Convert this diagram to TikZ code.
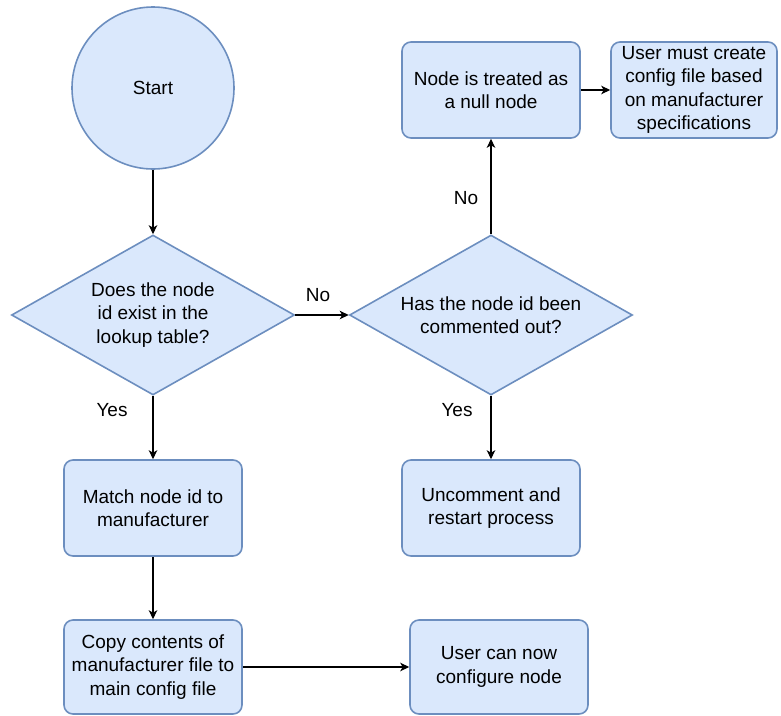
\documentclass[tikz,border=0pt]{standalone}
\usepackage{fontspec}
\setmainfont{Liberation Sans}
\usepackage{xcolor}
\usetikzlibrary{arrows.meta, positioning, shapes.geometric}
\definecolor{boxfill}{HTML}{DAE8FC}
\definecolor{boxline}{HTML}{6C8EBF}

\begin{document}
\begin{tikzpicture}[
    x=1pt, y=-1pt,
    >={Stealth[length=9pt, width=8.5pt, inset=2.5pt]},
    font=\fontsize{19}{23.5}\selectfont,
    box/.style={draw=boxline, fill=boxfill, line width=1.6pt, rectangle, rounded corners=9pt, align=center, minimum width=178pt, minimum height=96pt, inner sep=2pt},
    decision/.style={draw=boxline, fill=boxfill, line width=1.6pt, diamond, aspect=1.77, align=center, minimum width=283pt, minimum height=160pt, inner sep=0pt},
    startnode/.style={draw=boxline, fill=boxfill, line width=1.6pt, circle, minimum size=162pt},
    flow/.style={->, line width=1.2pt},
    lbl/.style={inner sep=1pt}
]
    \useasboundingbox (0,0) rectangle (781,715);

    % --- Start ---
    \node[startnode] (start) at (153,88) {Start};

    % --- Decisions ---
    \node[decision] (exists) at (153,315) {Does the node\\id exist in the\\lookup table?};
    \node[decision] (commented) at (491,315) {Has the node id been\\commented out?};

    % --- Boxes ---
    \node[box] (null) at (491,90) {Node is treated as\\a null node};
    \node[box, minimum width=166pt] (create) at (694,90) {User must create\\config file based\\on manufacturer\\specifications};
    \node[box] (match) at (153,508) {Match node id to\\manufacturer};
    \node[box] (uncomment) at (491,508) {Uncomment and\\restart process};
    \node[box, minimum height=94pt] (copy) at (153,667) {Copy contents of\\manufacturer file to\\main config file};
    \node[box, minimum height=94pt] (configure) at (499,667) {User can now\\configure node};

    % --- Connectors ---
    \draw[flow] (start) -- (exists);
    \draw[flow] (exists) -- (match);
    \draw[flow] (match) -- (copy);
    \draw[flow] (copy) -- (configure);
    \draw[flow] (exists) -- (commented);
    \draw[flow] (commented) -- (null);
    \draw[flow] (commented) -- (uncomment);
    \draw[flow] (null) -- (create);

    % --- Labels ---
    \node[lbl] (noA) at (318,295) {No};
    \node[lbl] (yesA) at (112,410) {Yes};
    \node[lbl] (noB) at (466,198) {No};
    \node[lbl] (yesB) at (457,410) {Yes};

\end{tikzpicture}
\end{document}
